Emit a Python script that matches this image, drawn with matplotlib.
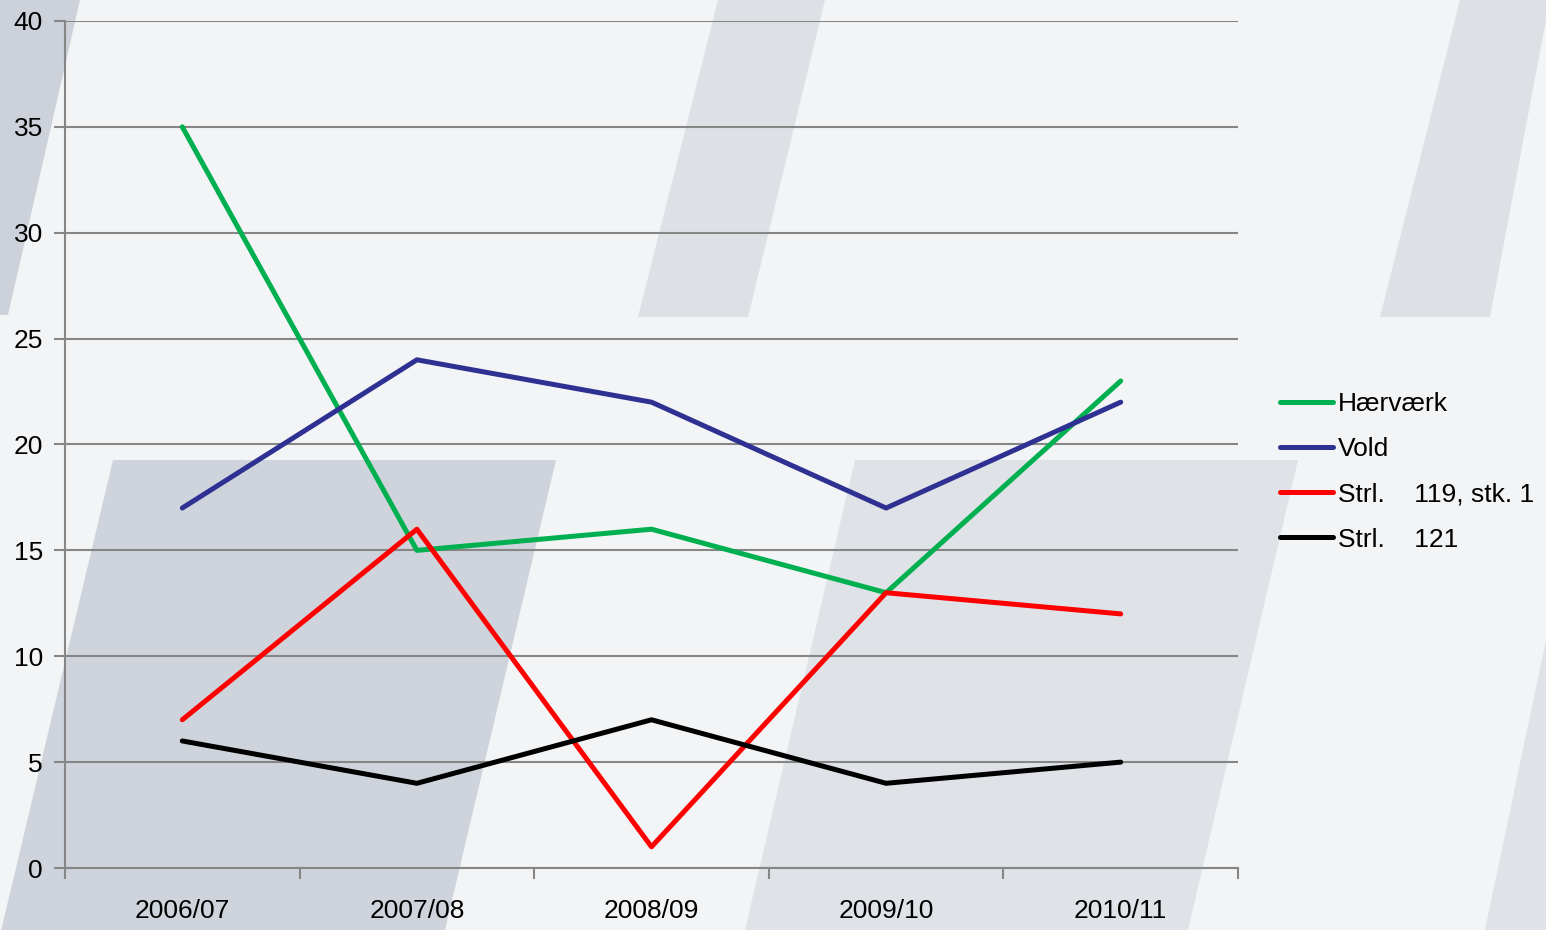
import numpy as np
import matplotlib
matplotlib.use("Agg")
from matplotlib import pyplot as plt
from matplotlib.patches import Polygon

plt.rcParams['font.family'] = ['Liberation Sans', 'DejaVu Sans']

seasons = ["2006/07", "2007/08", "2008/09", "2009/10", "2010/11"]
haervaerk = [35, 15, 16, 13, 23]
vold = [17, 24, 22, 17, 22]
strl_119 = [7, 16, 1, 13, 12]
strl_121 = [6, 4, 7, 4, 5]

W, H = 1546, 930
fig = plt.figure(figsize=(W / 100, H / 100), dpi=100)
fig.patch.set_facecolor("#f2f4f6")

# slanted background shapes, given in pixel coords
shapes = [
    ([(0, 0), (80, 0), (8, 315), (0, 315)], "#cdd2da"),
    ([(718, 0), (825, 0), (748, 317), (638, 317)], "#dde0e5"),
    ([(1460, 0), (1546, 0), (1546, 20), (1490, 317), (1380, 317)], "#dde0e5"),
    ([(113, 460), (556, 460), (445, 930), (0, 930), (0, 935)], "#cfd4dc"),
    ([(855, 460), (1298, 460), (1188, 930), (745, 930)], "#dfe2e7"),
    ([(1546, 640), (1546, 930), (1485, 930)], "#dfe2e7"),
]
for pts, col in shapes:
    xy = [(x / W, 1 - y / H) for x, y in pts]
    fig.patches.append(Polygon(xy, closed=True, transform=fig.transFigure,
                               facecolor=col, edgecolor="none", zorder=-10))

ax = fig.add_axes([65 / W, 1 - 868 / H, (1238 - 65) / W, (868 - 21) / H])
ax.set_facecolor("none")

x = np.arange(len(seasons))
lw = 3.6
ax.plot(x, haervaerk, color="#00b050", lw=lw, label="Hærværk", solid_capstyle="round")
ax.plot(x, vold, color="#2e3192", lw=lw, label="Vold", solid_capstyle="round")
ax.plot(x, strl_119, color="#ff0000", lw=lw, label="Strl.    119, stk. 1", solid_capstyle="round")
ax.plot(x, strl_121, color="#000000", lw=lw, label="Strl.    121", solid_capstyle="round")

ax.set_xlim(-0.5, len(seasons) - 0.5)
ax.set_ylim(0, 40)
ax.set_yticks(np.arange(0, 41, 5))
ax.yaxis.grid(True, color="#868686", lw=1.5)
ax.set_axisbelow(True)

ax.set_xticks(x)
ax.set_xticklabels(seasons)
ax.set_xticks(np.arange(-0.5, len(seasons)), minor=True)
ax.tick_params(axis="x", which="major", length=0, pad=22, labelsize=19)
ax.tick_params(axis="x", which="minor", length=8, width=1.5, color="#868686")
ax.tick_params(axis="y", length=8, width=1.5, color="#868686", labelsize=19, pad=8)

for s in ["top", "right"]:
    ax.spines[s].set_visible(False)
for s in ["left", "bottom"]:
    ax.spines[s].set_color("#868686")
    ax.spines[s].set_linewidth(1.5)

ax.legend(loc="center left", bbox_to_anchor=(1.036, 0.4675), frameon=False,
          fontsize=19, handlelength=2.0, handletextpad=0.2, labelspacing=0.8,
          borderaxespad=0, borderpad=0)

fig.savefig("out.png", dpi=100, facecolor=fig.get_facecolor())
